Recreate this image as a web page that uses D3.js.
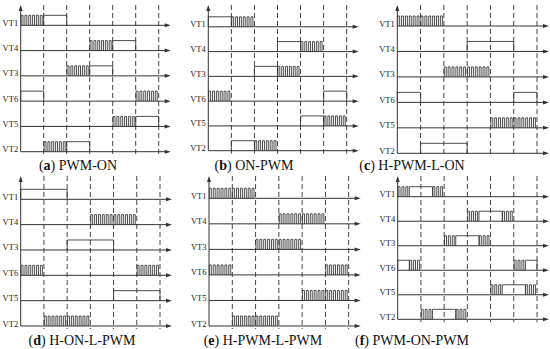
<!DOCTYPE html>
<html>
<head>
<meta charset="utf-8">
<script src="https://cdn.jsdelivr.net/npm/d3@7"></script>
<style>
  body { margin: 0; background: #fff; }
  svg { display: block; }
  .axis { stroke: #333; stroke-width: 1; fill: none; }
  .head { fill: #333; stroke: none; }
  .dash { stroke: #444; stroke-width: 1; stroke-dasharray: 5,3; }
  .sig { stroke: #3a3a3a; stroke-width: 0.9; fill: none; }
  .lbl { font-family: "Liberation Serif", "Times New Roman", Times, serif; font-size: 8.5px; fill: #222; }
  .cap { font-family: "Liberation Serif", "Times New Roman", Times, serif; font-size: 14px; fill: #111; }
</style>
</head>
<body>
<svg class="pwm" width="550" height="349"></svg>
<script>
var rows = ["VT1", "VT4", "VT3", "VT6", "VT5", "VT2"];
var captionLetters = ["a", "b", "c", "d", "e", "f"];
var captionNames = ["PWM-ON", "ON-PWM", "H-PWM-L-ON", "H-ON-L-PWM", "H-PWM-L-PWM", "PWM-ON-PWM"];

// 12 half-sectors (30 deg each) per switch: P = chopping, H = on, - = off
var pwmOn    = ["PPHH--------", "------PPHH--", "----PPHH----", "HH--------PP", "--------PPHH", "--PPHH------"];
var onPwm    = ["HHPP--------", "------HHPP--", "----HHPP----", "PP--------HH", "--------HHPP", "--HHPP------"];
var hPwmLOn  = ["PPPP--------", "------HHHH--", "----PPPP----", "HH--------HH", "--------PPPP", "--HHHH------"];
var hOnLPwm  = ["HHHH--------", "------PPPP--", "----HHHH----", "PP--------PP", "--------HHHH", "--PPPP------"];
var hPwmLPwm = ["PPPP--------", "------PPPP--", "----PPPP----", "PP--------PP", "--------PPPP", "--PPPP------"];
var pwmOnPwm = ["PHHP--------", "------PHHP--", "----PHHP----", "HP--------PH", "--------PHHP", "--PHHP------"];
var pulsesPerHalf = 3;

var modes = [pwmOn, onPwm, hPwmLOn, hOnLPwm, hPwmLPwm, pwmOnPwm];

// where each sub-figure sits on the page
var layout = [
  {x0: 20.7,  x6: 158.7, top: 5,   y1: 25.3,  y6: 151.7, cx: 78,  cy: 169.5},
  {x0: 208.3, x6: 346.7, top: 5,   y1: 26.8,  y6: 150.7, cx: 254, cy: 169.5},
  {x0: 397.3, x6: 537,   top: 5,   y1: 26,    y6: 153.3, cx: 412, cy: 169.5},
  {x0: 20.7,  x6: 160,   top: 176, y1: 199.3, y6: 326,   cx: 82,  cy: 344.5},
  {x0: 209,   x6: 348.7, top: 176, y1: 198.3, y6: 326,   cx: 263, cy: 344.5},
  {x0: 397.7, x6: 537,   top: 176, y1: 196.7, y6: 319.3, cx: 412, cy: 344.5}
];

var svg = d3.select(".pwm");

function highSpans(code) {
  var spans = [], p = 0.5 / pulsesPerHalf;
  code.split("").forEach(function(c, i) {
    var s = i / 2;
    if (c === "H") spans.push([s, s + 0.5]);
    if (c === "P") {
      for (var k = 0; k < pulsesPerHalf; k++)
        spans.push([s + k * p + 0.1 * p, s + k * p + 0.6 * p]);
    }
  });
  // join spans that touch
  var out = [];
  spans.forEach(function(d) {
    var last = out[out.length - 1];
    if (last && Math.abs(last[1] - d[0]) < 1e-6) last[1] = d[1];
    else out.push([d[0], d[1]]);
  });
  return out;
}

modes.forEach(function(mode, m) {
  var L = layout[m];
  var x = d3.scaleLinear().domain([0, 6]).range([L.x0, L.x6]);
  var y = d3.scalePoint().domain(rows).range([L.y1, L.y6]);
  var hi = 10;
  var g = svg.append("g");

  // sector boundaries
  g.selectAll(".dash")
      .data(d3.range(1, 7))
    .enter().append("line")
      .attr("class", "dash")
      .attr("x1", function(d) { return x(d); })
      .attr("x2", function(d) { return x(d); })
      .attr("y1", L.top)
      .attr("y2", L.y6 + 3);

  // vertical axis with arrow
  g.append("line")
      .attr("class", "axis")
      .attr("x1", x(0)).attr("x2", x(0))
      .attr("y1", L.top + 2).attr("y2", L.y6);
  g.append("path")
      .attr("class", "head")
      .attr("d", "M" + x(0) + "," + L.top + "l-2,6h4z");

  rows.forEach(function(r, i) {
    var yb = y(r);
    var xe = x(6) + 12;

    g.append("line")
        .attr("class", "axis")
        .attr("x1", x(0)).attr("x2", xe - 3)
        .attr("y1", yb).attr("y2", yb);
    g.append("path")
        .attr("class", "head")
        .attr("d", "M" + xe + "," + yb + "l-6,-2v4z");

    g.append("text")
        .attr("class", "lbl")
        .attr("x", x(0) - 2.5)
        .attr("y", yb + 0.5)
        .style("text-anchor", "end")
        .text(r);

    g.selectAll(".s" + i)
        .data(highSpans(mode[i]))
      .enter().append("path")
        .attr("class", "sig")
        .attr("d", function(d) {
          return "M" + x(d[0]) + "," + yb + "V" + (yb - hi) + "H" + x(d[1]) + "V" + yb;
        });
  });

  var cap = g.append("text")
      .attr("class", "cap")
      .attr("x", L.cx)
      .attr("y", L.cy)
      .style("text-anchor", "middle");
  cap.append("tspan").text("(");
  cap.append("tspan").style("font-weight", "bold").text(captionLetters[m]);
  cap.append("tspan").text(") " + captionNames[m]);
});
</script>
</body>
</html>
